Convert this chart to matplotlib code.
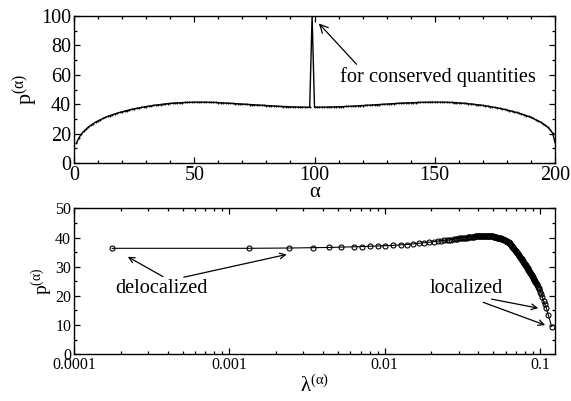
#!/usr/bin/env python3

import matplotlib
matplotlib.use('Agg')
import matplotlib.pyplot as plt
from matplotlib.ticker import MultipleLocator, LogLocator, FixedLocator, FuncFormatter, NullFormatter

plt.rcParams['font.family'] = ['Liberation Serif', 'DejaVu Serif']
plt.rcParams['mathtext.fontset'] = 'custom'
plt.rcParams['mathtext.rm'] = 'Liberation Serif'
plt.rcParams['mathtext.it'] = 'Liberation Serif'

# top panel: p^(alpha) vs alpha
alpha = list(range(1, 201))
p_alpha = [
    13.5, 17.0, 19.5, 21.5, 23.0, 24.5, 25.7, 26.8, 27.8, 28.7,
    29.5, 30.3, 31.0, 31.7, 32.3, 32.9, 33.4, 33.9, 34.4, 34.8,
    35.3, 35.7, 36.1, 36.5, 36.8, 37.2, 37.5, 37.8, 38.1, 38.4,
    38.7, 38.9, 39.2, 39.4, 39.6, 39.8, 40.0, 40.2, 40.4, 40.5,
    40.7, 40.8, 40.9, 41.0, 41.1, 41.2, 41.2, 41.3, 41.3, 41.4,
    41.4, 41.4, 41.4, 41.4, 41.4, 41.3, 41.3, 41.2, 41.2, 41.1,
    41.0, 40.9, 40.8, 40.7, 40.6, 40.5, 40.4, 40.3, 40.2, 40.1,
    40.0, 39.9, 39.8, 39.7, 39.6, 39.5, 39.4, 39.3, 39.2, 39.1,
    39.0, 38.9, 38.8, 38.7, 38.6, 38.5, 38.4, 38.4, 38.3, 38.2,
    38.2, 38.1, 38.1, 38.0, 38.0, 38.0, 37.9, 37.9, 100.0, 38.0,
    38.0, 38.0, 38.0, 38.0, 38.1, 38.1, 38.1, 38.2, 38.2, 38.3,
    38.3, 38.4, 38.5, 38.5, 38.6, 38.7, 38.8, 38.9, 39.0, 39.1,
    39.2, 39.3, 39.4, 39.5, 39.6, 39.7, 39.8, 39.9, 40.0, 40.1,
    40.2, 40.3, 40.4, 40.5, 40.6, 40.7, 40.8, 40.9, 40.9, 41.0,
    41.1, 41.1, 41.2, 41.2, 41.3, 41.3, 41.3, 41.4, 41.4, 41.4,
    41.4, 41.4, 41.4, 41.3, 41.3, 41.2, 41.2, 41.1, 41.0, 40.9,
    40.8, 40.6, 40.5, 40.3, 40.2, 40.0, 39.8, 39.6, 39.4, 39.2,
    38.9, 38.7, 38.4, 38.1, 37.8, 37.5, 37.2, 36.8, 36.5, 36.1,
    35.7, 35.3, 34.8, 34.4, 33.9, 33.4, 32.9, 32.3, 31.7, 31.0,
    30.3, 29.5, 28.7, 27.8, 26.8, 25.6, 24.3, 22.6, 20.3, 14.0,
]

# bottom panel: p^(alpha) vs lambda^(alpha)
lam = [
    0.000176, 0.00133, 0.00243, 0.00344, 0.00441, 0.00522, 0.00635, 0.00712, 0.00806, 0.00912,
    0.0101, 0.0114, 0.0127, 0.0139, 0.0152, 0.0166, 0.0180, 0.0194, 0.0209, 0.0220,
    0.0231, 0.0241, 0.0251, 0.0260, 0.0269, 0.0278, 0.0286, 0.0294, 0.0302, 0.0310,
    0.0317, 0.0324, 0.0331, 0.0338, 0.0345, 0.0351, 0.0357, 0.0363, 0.0369, 0.0375,
    0.0381, 0.0387, 0.0393, 0.0398, 0.0403, 0.0408, 0.0413, 0.0418, 0.0423, 0.0428,
    0.0433, 0.0438, 0.0443, 0.0448, 0.0453, 0.0458, 0.0463, 0.0468, 0.0473, 0.0478,
    0.0483, 0.0488, 0.0493, 0.0498, 0.0503, 0.0508, 0.0513, 0.0518, 0.0523, 0.0528,
    0.0533, 0.0538, 0.0543, 0.0548, 0.0553, 0.0558, 0.0563, 0.0568, 0.0573, 0.0578,
    0.0583, 0.0588, 0.0593, 0.0598, 0.0603, 0.0608, 0.0613, 0.0618, 0.0623, 0.0628,
    0.0633, 0.0638, 0.0643, 0.0648, 0.0653, 0.0658, 0.0663, 0.0668, 0.0673, 0.0678,
    0.0683, 0.0688, 0.0693, 0.0698, 0.0703, 0.0708, 0.0713, 0.0718, 0.0723, 0.0728,
    0.0733, 0.0738, 0.0743, 0.0748, 0.0753, 0.0758, 0.0763, 0.0768, 0.0773, 0.0778,
    0.0783, 0.0788, 0.0793, 0.0798, 0.0803, 0.0808, 0.0813, 0.0818, 0.0823, 0.0828,
    0.0833, 0.0838, 0.0843, 0.0848, 0.0853, 0.0858, 0.0863, 0.0868, 0.0873, 0.0878,
    0.0883, 0.0888, 0.0893, 0.0898, 0.0904, 0.0910, 0.0916, 0.0922, 0.0929, 0.0936,
    0.0943, 0.0951, 0.0960, 0.0970, 0.0981, 0.0993, 0.1006, 0.1020, 0.1036, 0.1055,
    0.1075, 0.1100, 0.1130, 0.1190,
]
p_lam = [
    36.3, 36.3, 36.4, 36.5, 36.6, 36.7, 36.8, 36.9, 37.0, 37.1,
    37.2, 37.3, 37.5, 37.6, 37.8, 38.0, 38.2, 38.4, 38.6, 38.8,
    38.9, 39.0, 39.1, 39.2, 39.3, 39.4, 39.5, 39.6, 39.7, 39.8,
    39.9, 39.9, 40.0, 40.0, 40.1, 40.1, 40.2, 40.2, 40.3, 40.3,
    40.4, 40.4, 40.4, 40.5, 40.5, 40.5, 40.5, 40.6, 40.6, 40.6,
    40.6, 40.6, 40.6, 40.6, 40.6, 40.6, 40.6, 40.6, 40.5, 40.5,
    40.5, 40.5, 40.4, 40.4, 40.3, 40.3, 40.2, 40.1, 40.05, 40.0,
    39.95, 39.9, 39.85, 39.8, 39.75, 39.7, 39.6, 39.5, 39.45, 39.4,
    39.3, 39.2, 39.1, 39.0, 38.9, 38.8, 38.7, 38.6, 38.45, 38.3,
    38.15, 38.0, 37.8, 37.6, 37.4, 37.15, 36.9, 36.7, 36.5, 36.2,
    36.0, 35.8, 35.6, 35.4, 35.2, 35.0, 34.7, 34.5, 34.3, 34.1,
    33.8, 33.6, 33.4, 33.2, 33.0, 32.7, 32.5, 32.3, 32.1, 31.9,
    31.6, 31.4, 31.2, 31.0, 30.7, 30.5, 30.3, 30.1, 29.8, 29.6,
    29.4, 29.2, 28.9, 28.7, 28.5, 28.3, 28.0, 27.8, 27.6, 27.4,
    27.1, 26.9, 26.7, 26.5, 26.2, 25.9, 25.6, 25.4, 25.1, 24.8,
    24.4, 24.1, 23.7, 23.2, 22.7, 22.2, 21.5, 20.7, 19.6, 18.3,
    17.1, 15.8, 13.5, 9.5,
]
lam_ticks = [0.0001, 0.001, 0.01, 0.1]
lam_ticklabels = ['0.0001', '0.001', '0.01', '0.1']

fig = plt.figure(figsize=(5.71, 4.01), dpi=100)
ax1 = fig.add_axes([0.1296, 0.5935, 0.8424, 0.3665])
ax2 = fig.add_axes([0.1296, 0.1165, 0.8424, 0.364])

ylab = r'$\mathrm{p}^{(\mathrm{α})}$'

# top
ax1.plot(alpha, p_alpha, color='black', lw=1.0, marker='o', ms=1.4, mew=0)
ax1.set_xlim(0, 200)
ax1.set_ylim(0, 100)
ax1.xaxis.set_major_locator(MultipleLocator(50))
ax1.xaxis.set_minor_locator(MultipleLocator(10))
ax1.yaxis.set_major_locator(MultipleLocator(20))
ax1.yaxis.set_minor_locator(MultipleLocator(10))
ax1.set_xlabel('α', fontsize=15, labelpad=-1)
ax1.set_ylabel(ylab, fontsize=16, labelpad=0)
ax1.annotate('for conserved quantities', xy=(101.8, 95), xytext=(110.4, 58.5),
             fontsize=14.7, va='center', ha='left',
             arrowprops=dict(arrowstyle='->', color='black', lw=0.9,
                             shrinkA=0, shrinkB=0, relpos=(0.1, 1.0)))

# bottom
ax2.plot(lam, p_lam, color='black', lw=0.8, marker='o', ms=3.6,
         mfc='none', mec='black', mew=0.8)
ax2.set_xscale('log')
ax2.set_xlim(0.0001, 0.125)
ax2.set_ylim(0, 50)
ax2.xaxis.set_major_locator(FixedLocator(lam_ticks))
ax2.xaxis.set_major_formatter(FuncFormatter(lambda v, pos: lam_ticklabels[lam_ticks.index(v)] if v in lam_ticks else ''))
ax2.xaxis.set_minor_locator(LogLocator(base=10, subs=range(2, 10)))
ax2.xaxis.set_minor_formatter(NullFormatter())
ax2.yaxis.set_major_locator(MultipleLocator(10))
ax2.yaxis.set_minor_locator(MultipleLocator(5))
ax2.set_xlabel(r'$\mathrm{λ}^{(\mathrm{α})}$', fontsize=15, labelpad=2)
ax2.set_ylabel(ylab, fontsize=14, labelpad=0)

ax2.text(1.83e-4, 22.6, 'delocalized', fontsize=14.7, va='center', ha='left')
for tip, tail in [((2.22e-4, 33.4), (3.74e-4, 26.6)), ((2.34e-3, 34.2), (5.09e-4, 26.4))]:
    ax2.annotate('', xy=tip, xytext=tail,
                 arrowprops=dict(arrowstyle='->', color='black', lw=0.9, shrinkA=0, shrinkB=0))
ax2.text(0.0195, 22.4, 'localized', fontsize=14.7, va='center', ha='left')
for tip, tail in [((0.0975, 15.8), (0.0488, 18.9)), ((0.108, 10.0), (0.0431, 17.8))]:
    ax2.annotate('', xy=tip, xytext=tail,
                 arrowprops=dict(arrowstyle='->', color='black', lw=0.9, shrinkA=0, shrinkB=0))

for ax, fs in [(ax1, 14.5), (ax2, 11.5)]:
    ax.tick_params(which='both', direction='in', top=True, right=True, labelsize=fs, width=0.9)
    ax.tick_params(which='major', length=4.5, pad=2)
    ax.tick_params(which='minor', length=2.3)
    for s in ax.spines.values():
        s.set_linewidth(1.0)

plt.savefig('out.png', dpi=100)
